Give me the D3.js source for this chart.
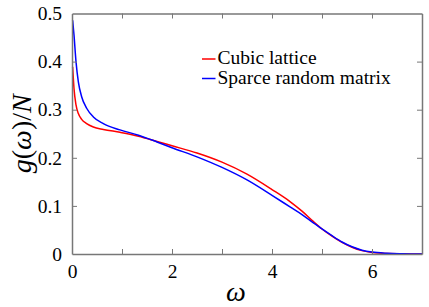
<!DOCTYPE html>
<html><head><meta charset="utf-8">
<script src="https://cdn.jsdelivr.net/npm/d3@7"></script>
<style>body{margin:0;background:#fff}svg{display:block}</style>
</head><body>
<script>
const omega = [0.013,0.04,0.08,0.127,0.193,0.293,0.427,0.627,0.96,1.33,1.7,2.0,2.5,3.0,3.5,4.0,4.36,4.6,4.8,5.0,5.2,5.4,5.6,5.8,6.0,6.3,6.6,7.0];
const cubic = [0.389,0.344,0.310,0.292,0.280,0.271,0.264,0.259,0.253,0.245,0.234,0.225,0.210,0.191,0.166,0.134,0.109,0.089,0.070,0.052,0.037,0.024,0.014,0.007,0.003,0.001,0.0005,0.0];
const sparse = [0.486,0.455,0.400,0.358,0.327,0.303,0.285,0.271,0.258,0.247,0.233,0.221,0.202,0.180,0.154,0.122,0.098,0.082,0.067,0.052,0.038,0.025,0.015,0.008,0.004,0.0015,0.0005,0.0];
const xTicks = [0,1,2,3,4,5,6,7];
const xTickLabels = ["0","","2","","4","","6",""];
const yTicks = [0,0.1,0.2,0.3,0.4,0.5];
const yTickLabels = ["0","0.1","0.2","0.3","0.4","0.5"];
const seriesNames = ["Cubic lattice","Sparce random matrix"];
const seriesColors = ["#ff0000","#0000ff"];

const W=429,H=307;
const L=72,R=422,T=13.5,B=254;
const svg=d3.select("body").append("svg").attr("width",W).attr("height",H);
const x=d3.scaleLinear().domain([0,7]).range([L,R]);
const y=d3.scaleLinear().domain([0,0.5]).range([B,T]);
const font="'Liberation Serif'";
const axisCol="#777";

const line=d3.line().x(d=>x(d[0])).y(d=>y(d[1])).curve(d3.curveMonotoneX);
[cubic,sparse].forEach((s,i)=>{
  svg.append("path").datum(omega.map((w,j)=>[w,s[j]]))
    .attr("d",line).attr("fill","none").attr("stroke",seriesColors[i]).attr("stroke-width",1.5);
});

function styleAxis(g){
  g.attr("font-family",null).attr("font-size",null);
  g.select(".domain").attr("stroke",axisCol).attr("stroke-width",1.5);
  g.selectAll(".tick line").attr("stroke",axisCol).attr("stroke-width",1);
  g.selectAll(".tick text").style("font-family",font).style("font-size","19.5px").attr("fill","#000");
}
const xb=svg.append("g").attr("transform",`translate(0,${B})`)
  .call(d3.axisBottom(x).tickValues(xTicks).tickSizeInner(-5).tickSizeOuter(0).tickPadding(10).tickFormat((d,i)=>xTickLabels[i]));
styleAxis(xb);
const xt=svg.append("g").attr("transform",`translate(0,${T})`)
  .call(d3.axisTop(x).tickValues(xTicks).tickSizeInner(-5).tickSizeOuter(0).tickFormat(""));
styleAxis(xt);
const yl=svg.append("g").attr("transform",`translate(${L},0)`)
  .call(d3.axisLeft(y).tickValues(yTicks).tickSizeInner(-5).tickSizeOuter(0).tickPadding(10).tickFormat((d,i)=>yTickLabels[i]));
styleAxis(yl);
const yr=svg.append("g").attr("transform",`translate(${R},0)`)
  .call(d3.axisRight(y).tickValues(yTicks).tickSizeInner(-5).tickSizeOuter(0).tickFormat(""));
styleAxis(yr);
[xb,xt].forEach(g=>g.selectAll(".tick").filter(d=>d===0||d===7).select("line").remove());
[yl,yr].forEach(g=>g.selectAll(".tick").filter(d=>d===0||d===0.5).select("line").remove());

svg.append("text").attr("x",236).attr("y",301).attr("text-anchor","middle")
  .style("font-family",font).style("font-style","italic").style("font-size","28px").text("ω");
const yt=svg.append("text").attr("transform",`translate(31,${(T+B)/2}) rotate(-90)`)
  .attr("text-anchor","middle").style("font-family",font).style("font-size","28px");
yt.append("tspan").style("font-style","italic").text("g");
yt.append("tspan").text("(");
yt.append("tspan").style("font-style","italic").text("ω");
yt.append("tspan").text(")/");
yt.append("tspan").style("font-style","italic").text("N");

seriesNames.forEach((n,i)=>{
  const yy=59+i*19.5;
  svg.append("line").attr("x1",202).attr("x2",215.5).attr("y1",yy).attr("y2",yy)
    .attr("stroke",seriesColors[i]).attr("stroke-width",1.5);
  svg.append("text").attr("x",217.5).attr("y",yy+5).style("font-family",font).style("font-size","19.5px").text(n);
});
</script>
</body></html>
